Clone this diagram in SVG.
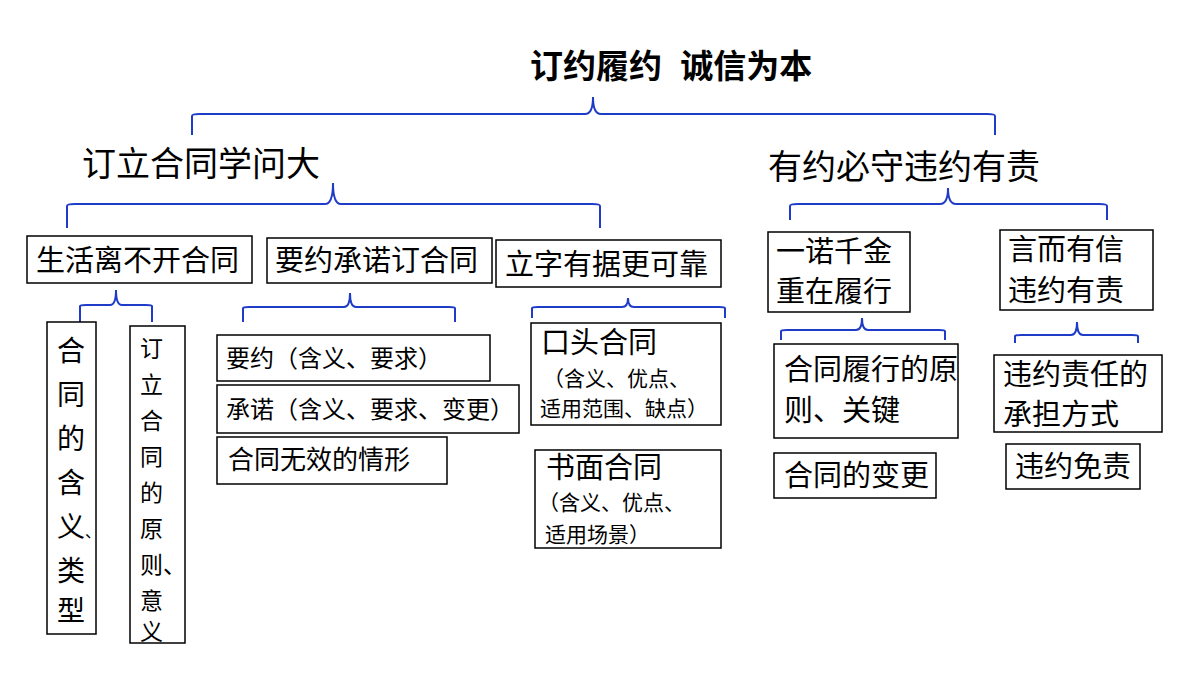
<svg xmlns="http://www.w3.org/2000/svg" width="1200" height="675" viewBox="0 0 1200 675">
<style>
text{font-family:"Liberation Sans","Noto Sans CJK SC",sans-serif;fill:#000}
.b{fill:#fff;stroke:#000;stroke-width:1.5}
.br{fill:none;stroke:#1f3cc8;stroke-width:2}
.t29{font-size:29px}.t28{font-size:28px}.t24{font-size:24px}.t21{font-size:21px}.t23{font-size:23px}
</style>
<rect width="1200" height="675" fill="#fff"/>
<g id="title"><text x="530" y="78" font-size="33" font-weight="bold" xml:space="preserve">订约履约  诚信为本</text></g>
<g id="connectors">
<path class="br" d="M192,135 V116 Q192,114 200,114 H585 Q593,114 593,97 Q593,114 601,114 H987 Q995,114 995,116 V135"/>
<path class="br" d="M67,228 V206 Q67,204 75,204 H325 Q333,204 333,183 Q333,204 341,204 H592 Q600,204 600,206 V228"/>
<path class="br" d="M790,220 V206 Q790,204 798,204 H940 Q948,204 948,188 Q948,204 956,204 H1099 Q1107,204 1107,206 V220"/>
<path class="br" d="M80,322 V306 Q80,305 86,305 H110 Q116,305 116,290 Q116,305 122,305 H146 Q152,305 152,306 V322"/>
<path class="br" d="M243,322 V308 Q243,307 249,307 H344 Q350,307 350,293 Q350,307 356,307 H449 Q455,307 455,308 V322"/>
<path class="br" d="M532,318 V308 Q532,307 538,307 H622 Q628,307 628,298 Q628,307 634,307 H719 Q725,307 725,308 V318"/>
<path class="br" d="M781,340 V331 Q781,330 787,330 H856 Q862,330 862,318 Q862,330 868,330 H939 Q945,330 945,331 V340"/>
<path class="br" d="M1015,343 V336 Q1015,335 1021,335 H1071 Q1077,335 1077,322 Q1077,335 1083,335 H1132 Q1138,335 1138,336 V343"/>
</g>
<g id="n-left"><text x="82" y="176" font-size="34">订立合同学问大</text></g>
<g id="n-right"><text x="768" y="179" font-size="34">有约必守违约有责</text></g>
<g id="n1"><rect class="b" x="27" y="236" width="225" height="47"/><text class="t29" x="36" y="271">生活离不开合同</text></g>
<g id="n2"><rect class="b" x="267" y="238" width="225" height="45"/><text class="t29" x="275" y="271">要约承诺订合同</text></g>
<g id="n3"><rect class="b" x="496" y="240" width="225" height="47"/><text class="t29" x="505" y="275">立字有据更可靠</text></g>
<g id="n4"><rect class="b" x="768" y="232" width="142" height="80"/><text class="t29" x="776" y="262">一诺千金</text><text class="t29" x="776" y="302">重在履行</text></g>
<g id="n5"><rect class="b" x="1000" y="230" width="153" height="80"/><text class="t29" x="1008" y="260">言而有信</text><text class="t29" x="1008" y="301">违约有责</text></g>
<g id="n6"><rect class="b" x="47" y="322" width="49" height="312"/>
<text class="t28" x="57" y="361">合</text><text class="t28" x="57" y="405">同</text><text class="t28" x="57" y="449">的</text><text class="t28" x="57" y="493">含</text><text class="t28" x="57" y="537">义</text><text x="85" y="537" font-size="16">、</text><text class="t28" x="57" y="581">类</text><text class="t28" x="57" y="621">型</text></g>
<g id="n7"><rect class="b" x="130" y="326" width="55" height="317"/>
<text class="t23" x="140" y="357">订</text><text class="t23" x="140" y="393">立</text><text class="t23" x="140" y="429">合</text><text class="t23" x="140" y="465">同</text><text class="t23" x="140" y="501">的</text><text class="t23" x="140" y="537">原</text><text class="t23" x="140" y="573">则、</text><text class="t23" x="140" y="609">意</text><text class="t23" x="140" y="640">义</text></g>
<g id="n8"><rect class="b" x="217" y="335" width="273" height="46"/><text class="t24" x="226" y="367">要约（含义、要求）</text></g>
<g id="n9"><rect class="b" x="217" y="385" width="302" height="48"/><text class="t24" x="226" y="418">承诺（含义、要求、变更）</text></g>
<g id="n10"><rect class="b" x="217" y="437" width="230" height="47"/><text x="228" y="469" font-size="26">合同无效的情形</text></g>
<g id="n11"><rect class="b" x="531" y="323" width="190" height="102"/><text class="t29" x="541" y="353">口头合同</text><text class="t21" x="543" y="386">（含义、优点、</text><text class="t21" x="540" y="416">适用范围、缺点）</text></g>
<g id="n12"><rect class="b" x="535" y="450" width="186" height="98"/><text class="t29" x="546" y="478">书面合同</text><text class="t21" x="538" y="510">（含义、优点、</text><text class="t21" x="545" y="542">适用场景）</text></g>
<g id="n13"><rect class="b" x="774" y="344" width="184" height="94"/><text class="t29" x="784" y="380">合同履行的原</text><text class="t29" x="784" y="421">则、关键</text></g>
<g id="n14"><rect class="b" x="774" y="453" width="162" height="45"/><text class="t29" x="784" y="486">合同的变更</text></g>
<g id="n15"><rect class="b" x="994" y="355" width="168" height="77"/><text class="t29" x="1003" y="385">违约责任的</text><text class="t29" x="1003" y="425">承担方式</text></g>
<g id="n16"><rect class="b" x="1006" y="444" width="134" height="45"/><text class="t29" x="1015" y="477">违约免责</text></g>
</svg>
